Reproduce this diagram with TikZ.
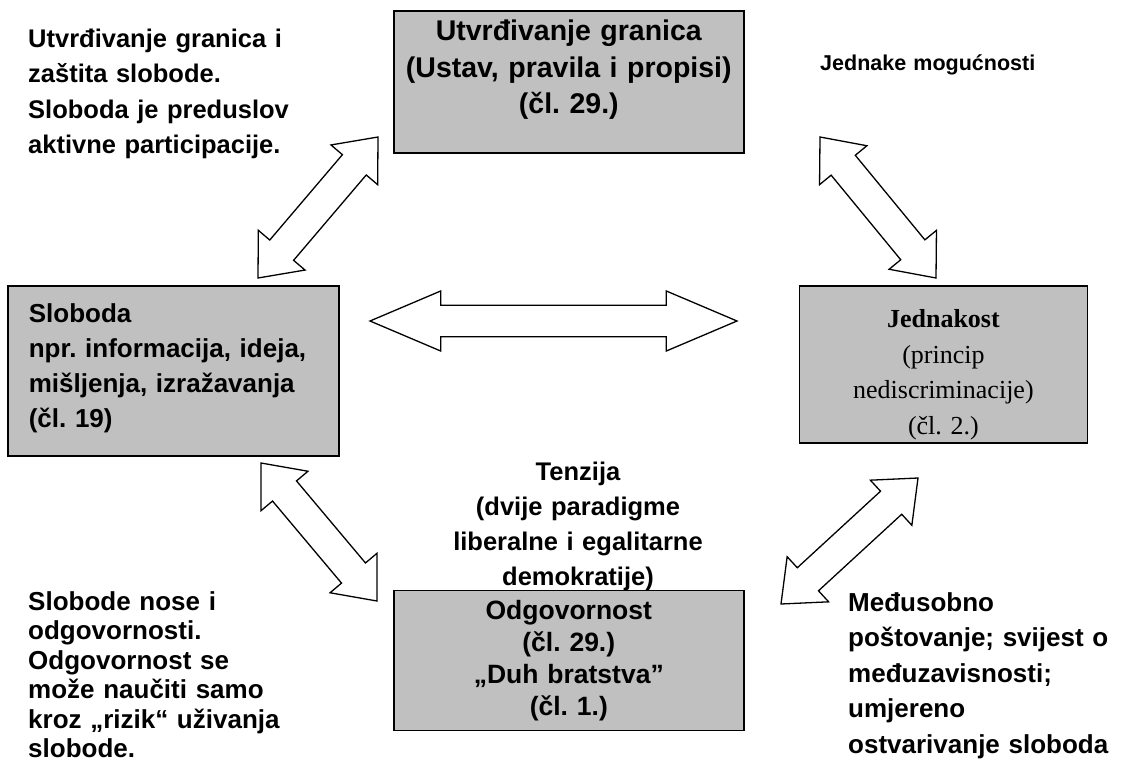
\documentclass[tikz,border=0pt]{standalone}
\usepackage{fontspec}
\setmainfont{Liberation Serif}
\setsansfont{Liberation Sans}
\usepackage{xcolor}
\usepackage{tikz}
\usetikzlibrary{arrows, positioning, calc, shapes.arrows}
\frenchspacing

\definecolor{sivo}{RGB}{192,192,192}

% hollow double arrow between two named points
\newcommand{\strelica}[3][]{%
  \path let \p1 = ($(#3)-(#2)$), \n1 = {veclen(\x1,\y1)} in
    (#2) -- (#3) node[dvostruka, #1, midway, sloped, minimum height = \n1] {};%
}

\begin{document}
\begin{tikzpicture}[
    x = 1pt, y = -1pt, % pixel grid, y goes down
    font = \sffamily\bfseries\fontsize{25.5}{35.5}\selectfont,
    kutija/.style = {rectangle, draw = black, line width = 1.6pt, fill = sivo,
      inner ysep = 0pt, anchor = north west},
    tekst/.style = {inner sep = 0pt, anchor = base west, text width = 320pt, align = left},
    dvostruka/.style = {double arrow, draw = black, line width = 1.3pt, fill = white,
      inner xsep = 0pt, inner ysep = 15pt, minimum width = 60pt,
      double arrow head extend = 15pt, double arrow tip angle = 80}
  ]
  \useasboundingbox (0,0) rectangle (1121,771);

  \node[kutija, text width = 330pt, inner xsep = 10pt, align = center,
    font = \sffamily\bfseries\fontsize{28.5}{36.5}\selectfont,
    text height = 30pt, text depth = 112pt] (granice) at (393,10)
    {Utvrđivanje granica\\(Ustav, pravila i propisi)\\(čl. 29.)};
  \node[kutija, text width = 289pt, inner xsep = 21pt, align = left,
    font = \sffamily\bfseries\fontsize{26}{35}\selectfont,
    text height = 37pt, text depth = 133pt] (sloboda) at (7,285)
    {Sloboda\\npr. informacija, ideja,\\mišljenja, izražavanja\\(čl. 19)};
  \node[kutija, text width = 268pt, inner xsep = 10pt, align = center,
    font = \rmfamily\mdseries\fontsize{26}{35.5}\selectfont,
    text height = 42pt, text depth = 115pt,
    right = 459pt of sloboda.north east, anchor = north west] (jednakost)
    {\textbf{Jednakost}\\(princip\\nediscriminacije)\\(čl. 2.)};
  \node[kutija, text width = 330pt, inner xsep = 10pt, align = center,
    font = \sffamily\bfseries\fontsize{26.5}{32}\selectfont,
    text height = 29pt, text depth = 111pt,
    below = 436pt of granice] (odgovornost)
    {Odgovornost\\(čl. 29.)\\„Duh bratstva”\\(čl. 1.)};

  \node[tekst] (granicetekst) at (28,47)
    {Utvrđivanje granica i\\zaštita slobode.\\Sloboda je preduslov\\aktivne participacije.};
  \node[tekst, font = \sffamily\bfseries\fontsize{21.5}{30}\selectfont]
    (mogucnosti) at (820,70) {Jednake mogućnosti};
  \node[tekst, anchor = base, align = center,
    font = \sffamily\bfseries\fontsize{25.5}{35}\selectfont] (tenzija) at (578,480)
    {Tenzija\\(dvije paradigme\\liberalne i egalitarne\\demokratije)};
  \node[tekst, font = \sffamily\bfseries\fontsize{26}{29.5}\selectfont] (rizik) at (28,610)
    {Slobode nose i\\odgovornosti.\\Odgovornost se\\može naučiti samo\\kroz „rizik“ uživanja\\slobode.};
  \node[tekst, font = \sffamily\bfseries\fontsize{26}{35.5}\selectfont] (postovanje) at (848,611)
    {Međusobno\\poštovanje; svijest o\\međuzavisnosti;\\umjereno\\ostvarivanje sloboda};

  \coordinate (tl1) at (258,278);
  \coordinate (tl2) at (378,137);
  \coordinate (tr1) at (820,137);
  \coordinate (tr2) at (936,278);
  \coordinate (bl1) at (261,463);
  \coordinate (bl2) at (377,601);
  \coordinate (br1) at (781,604);
  \coordinate (br2) at (918,478);
  \coordinate (h1) at (370,321);
  \coordinate (h2) at (737,321);

  \strelica{tl1}{tl2}
  \strelica{tr1}{tr2}
  \strelica{bl1}{bl2}
  \strelica{br1}{br2}
  \strelica[inner ysep = 15pt, double arrow head extend = 14pt,
    double arrow tip angle = 46]{h1}{h2}
\end{tikzpicture}
\end{document}
